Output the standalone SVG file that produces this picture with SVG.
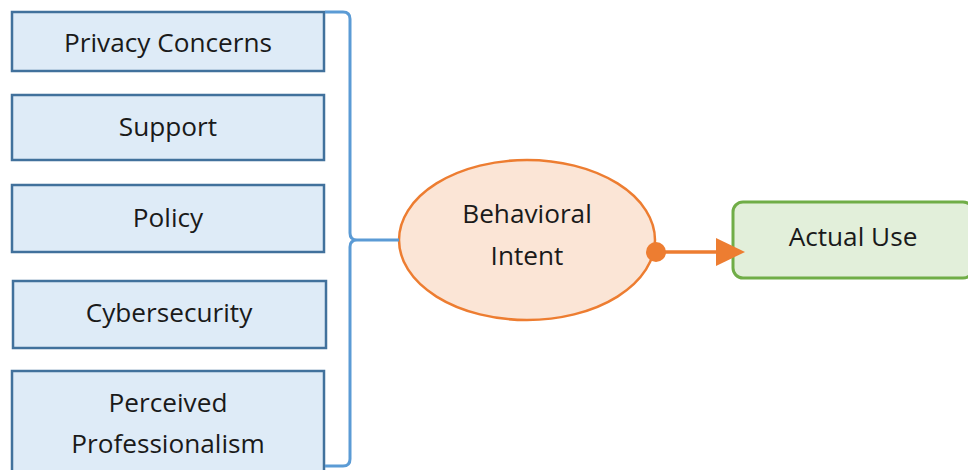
<svg xmlns="http://www.w3.org/2000/svg" width="968" height="470" viewBox="0 0 968 470">
<defs>
<style>
.box{fill:#DEEBF7;stroke:#41719C;stroke-width:2.5}
.t{font-family:"Open Sans","Liberation Sans",sans-serif;font-size:26.2px;fill:#1a1a1a;text-anchor:middle}
</style>
</defs>
<rect width="968" height="470" fill="#fff"/>
<g id="n-privacy"><rect class="box" x="12" y="12" width="312" height="59"/><text class="t" x="168" y="52">Privacy Concerns</text></g>
<g id="n-support"><rect class="box" x="12" y="95" width="312" height="65"/><text class="t" x="168" y="136">Support</text></g>
<g id="n-policy"><rect class="box" x="12" y="185" width="312" height="67"/><text class="t" x="168" y="227">Policy</text></g>
<g id="n-cyber"><rect class="box" x="13" y="281" width="313" height="67"/><text class="t" x="169" y="322">Cybersecurity</text></g>
<g id="n-prof"><rect class="box" x="12" y="371" width="312" height="104"/><text class="t" x="168" y="412">Perceived</text><text class="t" x="168" y="453">Professionalism</text></g>
<g id="n-intent"><ellipse cx="527" cy="240" rx="128" ry="80" fill="#FBE5D6" stroke="#ED7D31" stroke-width="2.5"/><text class="t" x="527" y="223">Behavioral</text><text class="t" x="527" y="265">Intent</text></g>
<g id="n-use"><rect x="733" y="202" width="240" height="76" rx="10" fill="#E2EFDA" stroke="#70AD47" stroke-width="3"/><text class="t" x="853" y="246">Actual Use</text></g>
<g id="connectors">
<path d="M325 12 H343 Q350 12 350 19 V233 Q350 240 357 240 H399 M357 240 Q350 240 350 247 V459 Q350 466 343 466 H325" fill="none" stroke="#5B9BD5" stroke-width="3"/>
<line x1="656" y1="252" x2="720" y2="252" stroke="#ED7D31" stroke-width="3.5"/>
<circle cx="656" cy="252" r="10" fill="#ED7D31"/>
<polygon points="716,238 745,252 716,266" fill="#ED7D31"/>
</g>
</svg>
